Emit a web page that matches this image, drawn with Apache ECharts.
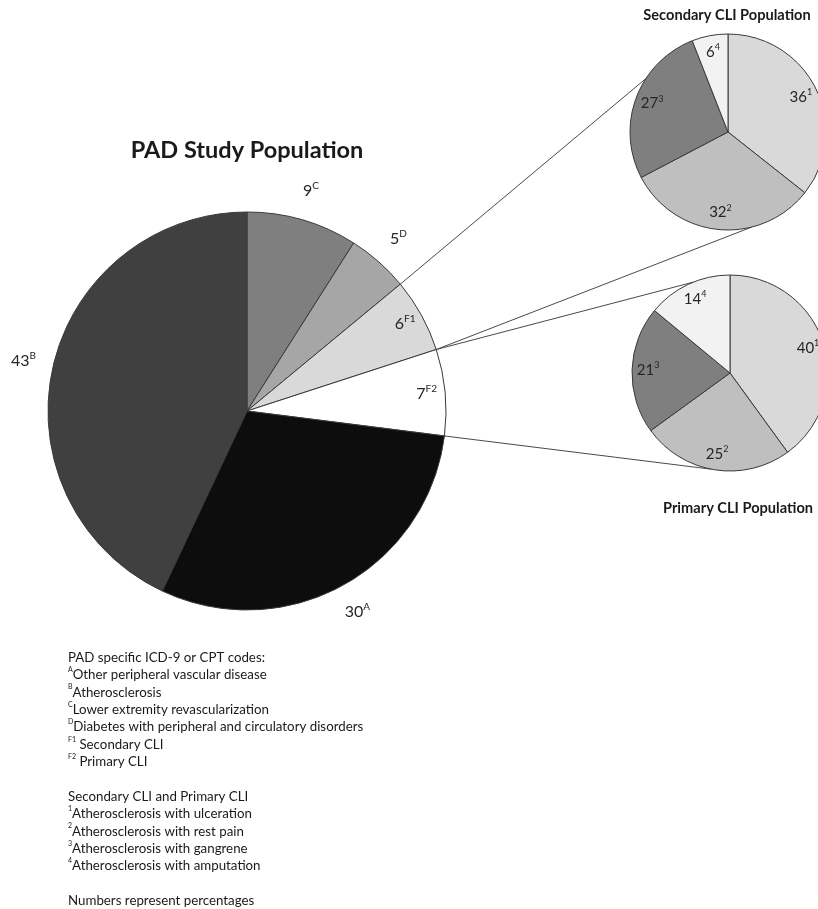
<!DOCTYPE html>
<html><head><meta charset="utf-8">
<script src="https://cdn.jsdelivr.net/npm/echarts@6/dist/echarts.min.js"></script>
<style>html,body{margin:0;padding:0;background:#fff}#c{width:818px;height:909px}</style>
</head><body><div id="c"></div>
<script>
// ---------- data ----------
const mainTitle = 'PAD Study Population';
const mainCodes = ['C', 'D', 'F1', 'F2', 'A', 'B'];
const mainValues = [9, 5, 6, 7, 30, 43];

const secTitle = 'Secondary CLI Population';
const secCodes = ['1', '2', '3', '4'];
const secValues = [36, 32, 27, 6];

const priTitle = 'Primary CLI Population';
const priCodes = ['1', '2', '3', '4'];
const priValues = [40, 25, 21, 14];

const footHeader1 = 'PAD specific ICD-9 or CPT codes:';
const footCodes1 = ['A', 'B', 'C', 'D', 'F1', 'F2'];
const footTexts1 = ['Other peripheral vascular disease', 'Atherosclerosis', 'Lower extremity revascularization',
  'Diabetes with peripheral and circulatory disorders', ' Secondary CLI', ' Primary CLI'];
const footHeader2 = 'Secondary CLI and Primary CLI';
const footCodes2 = ['1', '2', '3', '4'];
const footTexts2 = ['Atherosclerosis with ulceration', 'Atherosclerosis with rest pain',
  'Atherosclerosis with gangrene', 'Atherosclerosis with amputation'];
const footNote = 'Numbers represent percentages';

// ---------- styles / layout ----------
const FONT = 'Lato';
const mainColors = ['#7f7f7f', '#a6a6a6', '#d9d9d9', '#ffffff', '#0d0d0d', '#404040'];
const mainLabelInside = [false, false, true, true, false, false];
const subColors = ['#d9d9d9', '#bfbfbf', '#7f7f7f', '#f2f2f2'];
const MAIN_C = [247, 411], MAIN_R = 199;
const SEC_C = [728, 132], PRI_C = [730, 373], SUB_R = 98;
const secLinkAngles = [303, 166];   // where connectors touch the secondary pie
const priLinkAngles = [338, 191];   // where connectors touch the primary pie

function makeRich(size) {
  return {
    n: { fontFamily: FONT, fontSize: size, color: '#262626', lineHeight: size + 4 },
    s: { fontFamily: FONT, fontSize: Math.round(size * 0.62), color: '#262626', lineHeight: Math.round(size * 0.62) + 2, verticalAlign: 'top' }
  };
}

function pieSeries(values, codes, colors, center, r) {
  return {
    type: 'pie', center: center, radius: [0, r], startAngle: 90, clockwise: true,
    silent: true, animation: false, z: 2,
    label: { show: false }, labelLine: { show: false },
    emphasis: { disabled: true },
    itemStyle: { borderColor: '#3a3a3a', borderWidth: 1 },
    data: values.map((v, i) => ({ value: v, name: codes[i], itemStyle: { color: colors[i] } }))
  };
}
function labelRing(values, codes, center, r0, r1, size, showArr) {
  return {
    type: 'pie', center: center, radius: [r0, r1], startAngle: 90, clockwise: true,
    silent: true, animation: false, z: 3,
    itemStyle: { color: 'rgba(0,0,0,0)', borderWidth: 0 },
    labelLine: { show: false }, emphasis: { disabled: true },
    label: {
      position: 'inside',
      formatter: p => '{n|' + p.value + '}{s|' + codes[p.dataIndex] + '}',
      rich: makeRich(size)
    },
    data: values.map((v, i) => ({ value: v, name: codes[i], label: { show: showArr ? showArr[i] : true } }))
  };
}

function pt(c, r, deg) {
  const a = deg * Math.PI / 180;
  return [c[0] + r * Math.sin(a), c[1] - r * Math.cos(a)];
}
const total = mainValues.reduce((a, b) => a + b, 0);
const cum = [0];
mainValues.forEach(v => cum.push(cum[cum.length - 1] + v));
const angOf = k => cum[k] / total * 360;
const pF1start = pt(MAIN_C, MAIN_R, angOf(2));
const pF1end = pt(MAIN_C, MAIN_R, angOf(3));
const pF2end = pt(MAIN_C, MAIN_R, angOf(4));
const links = [
  [pF1start, pt(SEC_C, SUB_R, secLinkAngles[0])],
  [pF1end, pt(SEC_C, SUB_R, secLinkAngles[1])],
  [pF1end, pt(PRI_C, SUB_R, priLinkAngles[0])],
  [pF2end, pt(PRI_C, SUB_R, priLinkAngles[1])]
];

// footnote rich text
let footLines = [footHeader1];
footCodes1.forEach((c, i) => footLines.push('{s|' + c + '}' + footTexts1[i]));
footLines.push('');
footLines.push(footHeader2);
footCodes2.forEach((c, i) => footLines.push('{s|' + c + '}' + footTexts2[i]));
footLines.push('');
footLines.push(footNote);

const chart = echarts.init(document.getElementById('c'), null, { renderer: 'canvas' });
chart.setOption({
  backgroundColor: '#ffffff',
  animation: false,
  series: [
    pieSeries(mainValues, mainCodes, mainColors, MAIN_C, MAIN_R),
    labelRing(mainValues, mainCodes, MAIN_C, 201, 251, 16, mainLabelInside.map(b => !b)),
    labelRing(mainValues, mainCodes, MAIN_C, 156, 199, 16, mainLabelInside),
    pieSeries(secValues, secCodes, subColors, SEC_C, SUB_R),
    labelRing(secValues, secCodes, SEC_C, 58, 98, 15),
    pieSeries(priValues, priCodes, subColors, PRI_C, SUB_R),
    labelRing(priValues, priCodes, PRI_C, 60, 98, 15)
  ],
  graphic: [
    ...links.map(l => ({
      type: 'line', z: 1, silent: true,
      shape: { x1: l[0][0], y1: l[0][1], x2: l[1][0], y2: l[1][1] },
      style: { stroke: '#4a4a4a', lineWidth: 1 }
    })),
    { type: 'text', x: 247, y: 150, silent: true,
      style: { text: mainTitle, font: 'bold 23.5px ' + FONT, fill: '#1a1a1a', textAlign: 'center', textVerticalAlign: 'middle' } },
    { type: 'text', x: 727, y: 15, silent: true,
      style: { text: secTitle, font: 'bold 14.6px ' + FONT, fill: '#1a1a1a', textAlign: 'center', textVerticalAlign: 'middle' } },
    { type: 'text', x: 738, y: 508, silent: true,
      style: { text: priTitle, font: 'bold 14.6px ' + FONT, fill: '#1a1a1a', textAlign: 'center', textVerticalAlign: 'middle' } },
    { type: 'text', x: 68, y: 649, silent: true,
      style: {
        text: footLines.join('\n'), fontFamily: FONT, fontSize: 13.3, fill: '#1a1a1a', lineHeight: 17.36,
        rich: { s: { fontFamily: FONT, fontSize: 7, fill: '#1a1a1a', lineHeight: 9, verticalAlign: 'top' } }
      } }
  ]
});
</script></body></html>
